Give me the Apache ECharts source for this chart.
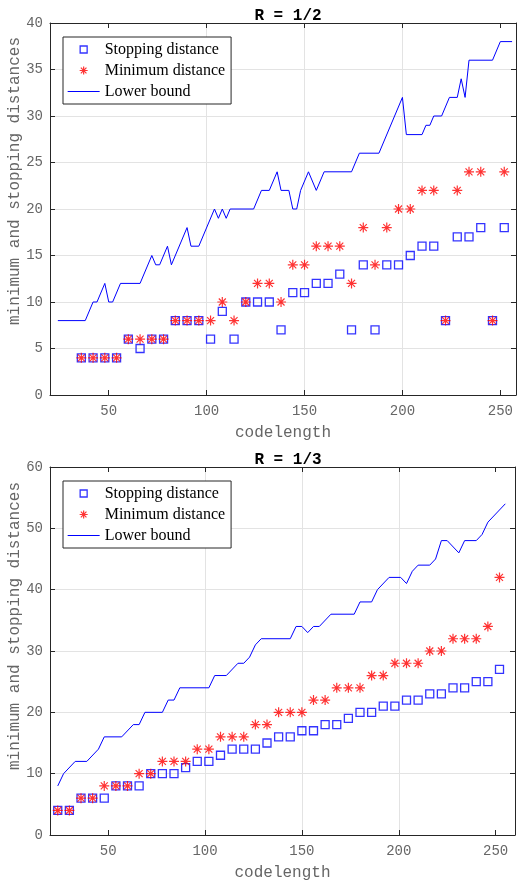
<!DOCTYPE html>
<html>
<head>
<meta charset="utf-8">
<title>minimum and stopping distances</title>
<script src="https://cdn.jsdelivr.net/npm/echarts/dist/echarts.min.js"></script>
<style>
  html, body { margin: 0; padding: 0; background: #fff; }
  #chart { width: 518px; height: 883px; }
</style>
</head>
<body>
<div id="chart"></div>
<script>
// R = 1/2
const codeLen12 = [36, 42, 48, 54, 60, 66, 72, 78, 84, 90, 96, 102, 108, 114, 120, 126, 132, 138, 144, 150,
  156, 162, 168, 174, 180, 186, 192, 198, 204, 210, 216, 222, 228, 234, 240, 246, 252]
const stop12 = [4, 4, 4, 4, 6, 5, 6, 6, 8, 8, 8, 6, 9, 6, 10, 10, 10, 7, 11, 11,
  12, 12, 13, 7, 14, 7, 14, 14, 15, 16, 16, 8, 17, 17, 18, 8, 18]
const min12 = [4, 4, 4, 4, 6, 6, 6, 6, 8, 8, 8, 8, 10, 8, 10, 12, 12, 10, 14, 14,
  16, 16, 16, 12, 18, 14, 18, 20, 20, 22, 22, 8, 22, 24, 24, 8, 24]
// lower bound, corners of the curve
const lbLen12 = [24, 38, 42, 44, 48, 50, 52, 56, 66, 72, 74, 76, 80, 82, 90, 92, 96, 104, 106, 108, 110, 112,
  124, 128, 132, 136, 138, 142, 144, 146, 148, 152, 156, 160, 174, 178, 188, 200, 202, 210, 212, 214, 216,
  220, 224, 228, 230, 232, 234, 246, 250, 256]
const lbVal12 = [8, 8, 10, 10, 12, 10, 10, 12, 12, 15, 14, 14, 16, 14, 18, 16, 16, 20, 19, 20, 19, 20,
  20, 22, 22, 24, 22, 22, 20, 20, 22, 24, 22, 24, 24, 26, 26, 32, 28, 28, 29, 29, 30,
  30, 32, 32, 34, 32, 36, 36, 38, 38]

// R = 1/3
const codeLen13 = [24, 30, 36, 42, 48, 54, 60, 66, 72, 78, 84, 90, 96, 102, 108, 114, 120, 126, 132, 138,
  144, 150, 156, 162, 168, 174, 180, 186, 192, 198, 204, 210, 216, 222, 228, 234, 240, 246, 252]
const stop13 = [4, 4, 6, 6, 6, 8, 8, 8, 10, 10, 10, 11, 12, 12, 13, 14, 14, 14, 15, 16,
  16, 17, 17, 18, 18, 19, 20, 20, 21, 21, 22, 22, 23, 23, 24, 24, 25, 25, 27]
const min13 = [4, 4, 6, 6, 8, 8, 8, 10, 10, 12, 12, 12, 14, 14, 16, 16, 16, 18, 18, 20,
  20, 20, 22, 22, 24, 24, 24, 26, 26, 28, 28, 28, 30, 30, 32, 32, 32, 34, 42]
const lbLen13 = [24, 27, 33, 39, 45, 48, 57, 63, 66, 69, 78, 81, 84, 87, 102, 105, 111, 117, 120, 123, 126,
  129, 144, 147, 150, 153, 156, 159, 165, 177, 180, 186, 189, 195, 201, 204, 207, 210, 216, 219, 222,
  225, 231, 234, 240, 243, 246, 255]
const lbVal13 = [8, 10, 12, 12, 14, 16, 16, 18, 18, 20, 20, 22, 22, 24, 24, 26, 26, 28, 28, 29, 31,
  32, 32, 34, 34, 33, 34, 34, 36, 36, 38, 38, 40, 42, 42, 41, 43, 44, 44, 45, 48,
  48, 46, 48, 48, 49, 51, 54]

const names = ['Stopping distance', 'Minimum distance', 'Lower bound']
const xTicks = [50, 100, 150, 200, 250]

const pair = (xs, ys) => xs.map((x, i) => [x, ys[i]])

const MONO = "'Liberation Mono', 'Courier New', monospace"
const SERIF = "'Liberation Serif', 'Times New Roman', serif"
const AXIS = '#262626'
const LABEL = '#666666'
const GRIDLINE = '#e3e3e3'
const BLUE = '#0000ff'
const RED = '#ff0000'
// asterisk: plus and cross
const STAR = 'path://M5,0L5,10M0,5L10,5M1.5,1.5L8.5,8.5M1.5,8.5L8.5,1.5'
// legend icons, boxed into 32x8 so they keep their shape
const ICON_SQUARE = 'path://M0,0M32,8M12.5,0.5L19.5,0.5L19.5,7.5L12.5,7.5Z'
const ICON_STAR = 'path://M0,0M32,8M16,0L16,8M12,4L20,4M13.2,1.2L18.8,6.8M13.2,6.8L18.8,1.2'
const ICON_LINE = 'path://M0,0M32,8M0,3.5L32,3.5L32,4.5L0,4.5Z'

function xAxes(grid, min, max) {
  return [
    {
      type: 'value',
      gridIndex: grid,
      position: 'bottom',
      min: min,
      max: max,
      name: 'codelength',
      nameLocation: 'middle',
      nameGap: 30,
      nameTextStyle: { fontFamily: MONO, fontSize: 16, color: LABEL },
      axisLine: { show: true, onZero: false, lineStyle: { color: AXIS, width: 1 } },
      axisTick: { show: true, inside: true, length: 5, customValues: xTicks, lineStyle: { color: AXIS } },
      axisLabel: { customValues: xTicks, margin: 9, fontFamily: MONO, fontSize: 14, color: LABEL },
      splitLine: { show: true, showMinLine: false, showMaxLine: false, lineStyle: { color: GRIDLINE, width: 1 } },
    },
    {
      type: 'value',
      gridIndex: grid,
      position: 'top',
      min: min,
      max: max,
      axisLine: { show: true, onZero: false, lineStyle: { color: AXIS, width: 1 } },
      axisTick: { show: true, inside: true, length: 5, customValues: xTicks, lineStyle: { color: AXIS } },
      axisLabel: { show: false },
      splitLine: { show: false },
    },
  ]
}

function yAxes(grid, max, step) {
  return [
    {
      type: 'value',
      gridIndex: grid,
      position: 'left',
      min: 0,
      max: max,
      interval: step,
      axisLine: { show: true, onZero: false, lineStyle: { color: AXIS, width: 1 } },
      axisTick: { show: true, inside: true, length: 5, lineStyle: { color: AXIS } },
      axisLabel: { margin: 7, fontFamily: MONO, fontSize: 14, color: LABEL },
      splitLine: { show: true, showMinLine: false, showMaxLine: false, lineStyle: { color: GRIDLINE, width: 1 } },
    },
    {
      type: 'value',
      gridIndex: grid,
      position: 'right',
      min: 0,
      max: max,
      interval: step,
      axisLine: { show: true, onZero: false, lineStyle: { color: AXIS, width: 1 } },
      axisTick: { show: true, inside: true, length: 5, lineStyle: { color: AXIS } },
      axisLabel: { show: false },
      splitLine: { show: false },
    },
  ]
}

function seriesFor(xIdx, yIdx, len, stop, mind, lbLen, lbVal) {
  return [
    {
      name: names[0],
      type: 'scatter',
      xAxisIndex: xIdx,
      yAxisIndex: yIdx,
      symbol: 'rect',
      symbolSize: 8,
      itemStyle: { color: 'rgba(0,0,0,0)', borderColor: BLUE, borderWidth: 1.3 },
      data: pair(len, stop),
      z: 3,
    },
    {
      name: names[1],
      type: 'scatter',
      xAxisIndex: xIdx,
      yAxisIndex: yIdx,
      symbol: STAR,
      symbolSize: 10,
      itemStyle: { color: 'rgba(0,0,0,0)', borderColor: RED, borderWidth: 1.2 },
      data: pair(len, mind),
      z: 4,
    },
    {
      name: names[2],
      type: 'line',
      xAxisIndex: xIdx,
      yAxisIndex: yIdx,
      symbol: 'none',
      showSymbol: false,
      lineStyle: { color: BLUE, width: 1 },
      itemStyle: { color: BLUE },
      data: pair(lbLen, lbVal),
      z: 2,
    },
  ]
}

function legendAt(left, top) {
  return {
    data: [
      { name: names[0], icon: ICON_SQUARE, itemStyle: { color: 'rgba(0,0,0,0)', borderColor: BLUE, borderWidth: 1.3 } },
      { name: names[1], icon: ICON_STAR, itemStyle: { color: 'rgba(0,0,0,0)', borderColor: RED, borderWidth: 1.2 } },
      { name: names[2], icon: ICON_LINE, itemStyle: { color: BLUE, borderColor: 'rgba(0,0,0,0)', borderWidth: 0 } },
    ],
    orient: 'vertical',
    left: left,
    top: top,
    padding: [2, 6, 2, 4],
    itemGap: 0,
    itemWidth: 32,
    itemHeight: 8,
    selectedMode: false,
    backgroundColor: '#fff',
    borderColor: AXIS,
    borderWidth: 1,
    textStyle: { fontFamily: SERIF, fontSize: 16, color: '#000', lineHeight: 21 },
  }
}

var myChart = echarts.init(document.getElementById('chart'), null, { renderer: 'canvas' })

var option = {
  backgroundColor: '#fff',
  animation: false,
  title: [
    {
      text: 'R = 1/2',
      left: 283,
      top: 3,
      textAlign: 'center',
      textStyle: { fontFamily: MONO, fontSize: 16, fontWeight: 'bold', color: '#000' },
    },
    {
      text: 'R = 1/3',
      left: 283,
      top: 447,
      textAlign: 'center',
      textStyle: { fontFamily: MONO, fontSize: 16, fontWeight: 'bold', color: '#000' },
    },
  ],
  grid: [
    { left: 50, top: 23, width: 466, height: 372 },
    { left: 50, top: 467, width: 465, height: 368 },
  ],
  legend: [legendAt(63, 37), legendAt(63, 481)],
  xAxis: [].concat(xAxes(0, 20, 258), xAxes(1, 20, 260)),
  yAxis: [].concat(yAxes(0, 40, 5), yAxes(1, 60, 10)),
  // y labels sit a bit above the middle of the axes in the original
  graphic: [
    {
      type: 'text',
      x: 15,
      y: 181,
      rotation: Math.PI / 2,
      style: { text: 'minimum and stopping distances', font: '16px ' + MONO, fill: LABEL, align: 'center', verticalAlign: 'middle' },
    },
    {
      type: 'text',
      x: 15,
      y: 626,
      rotation: Math.PI / 2,
      style: { text: 'minimum and stopping distances', font: '16px ' + MONO, fill: LABEL, align: 'center', verticalAlign: 'middle' },
    },
  ],
  series: [].concat(
    seriesFor(0, 0, codeLen12, stop12, min12, lbLen12, lbVal12),
    seriesFor(2, 2, codeLen13, stop13, min13, lbLen13, lbVal13)
  ),
}

option && myChart.setOption(option)
window.addEventListener('resize', function () {
  myChart.resize()
})
</script>
</body>
</html>
